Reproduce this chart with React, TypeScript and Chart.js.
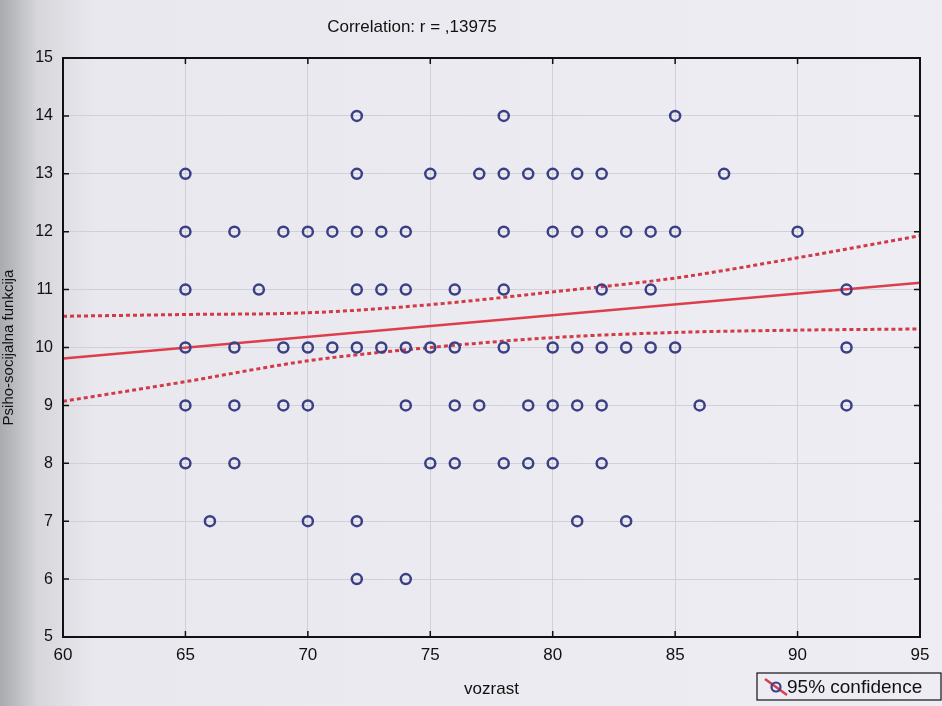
import { useEffect, useRef } from "react";
import { Chart, registerables } from "chart.js";

Chart.register(...registerables);

const FONT = '"Liberation Sans", Arial, sans-serif';
const RED = "#dc3f4b";
const BLUE = "#3a3f86";

const titleText = "Correlation: r = ,13975";
const xTitle = "vozrast";
const yTitle = "Psiho-socijalna funkcija";
const legendText = "95% confidence";

const xTicks = [60, 65, 70, 75, 80, 85, 90, 95];
const yTicks = [5, 6, 7, 8, 9, 10, 11, 12, 13, 14, 15];

// score levels and the ages observed at each level
const scores = [14, 13, 12, 11, 10, 9, 8, 7, 6];
const ages14 = [72, 78, 85];
const ages13 = [65, 72, 75, 77, 78, 79, 80, 81, 82, 87];
const ages12 = [65, 67, 69, 70, 71, 72, 73, 74, 78, 80, 81, 82, 83, 84, 85, 90];
const ages11 = [65, 68, 72, 73, 74, 76, 78, 82, 84, 92];
const ages10 = [65, 67, 69, 70, 71, 72, 73, 74, 75, 76, 78, 80, 81, 82, 83, 84, 85, 92];
const ages9 = [65, 67, 69, 70, 74, 76, 77, 79, 80, 81, 82, 86, 92];
const ages8 = [65, 67, 75, 76, 78, 79, 80, 82];
const ages7 = [66, 70, 72, 81, 83];
const ages6 = [72, 74];
const agesByScore = [ages14, ages13, ages12, ages11, ages10, ages9, ages8, ages7, ages6];

// regression line and 95% confidence band
const fitX = [60, 95];
const fitY = [9.81, 11.12];
const bandX = [60, 65, 70, 75, 80, 85, 90, 95];
const upperY = [10.54, 10.57, 10.6, 10.74, 10.96, 11.2, 11.55, 11.93];
const lowerY = [9.07, 9.41, 9.77, 10.0, 10.17, 10.26, 10.3, 10.32];

const framePlugin = {
  id: "frame",
  afterDraw(chart: any) {
    const { ctx, chartArea, scales } = chart;
    const { left, top, right, bottom } = chartArea;
    const x = scales.x;
    const y = scales.y;
    ctx.save();
    ctx.strokeStyle = "#111";
    ctx.lineWidth = 2;
    ctx.strokeRect(left, top, right - left, bottom - top);
    ctx.lineWidth = 1.5;
    ctx.beginPath();
    for (const v of xTicks) {
      const px = x.getPixelForValue(v);
      ctx.moveTo(px, bottom);
      ctx.lineTo(px, bottom - 6);
      ctx.moveTo(px, top);
      ctx.lineTo(px, top + 6);
    }
    for (const v of yTicks) {
      const py = y.getPixelForValue(v);
      ctx.moveTo(left, py);
      ctx.lineTo(left + 6, py);
      ctx.moveTo(right, py);
      ctx.lineTo(right - 6, py);
    }
    ctx.stroke();

    // title
    ctx.fillStyle = "#111";
    ctx.font = `17px ${FONT}`;
    ctx.textAlign = "center";
    ctx.textBaseline = "middle";
    ctx.fillText(titleText, 412, 27);

    // legend
    const lx = 757, ly = 673, lw = 184, lh = 27;
    ctx.lineWidth = 1.2;
    ctx.strokeStyle = "#111";
    ctx.strokeRect(lx, ly, lw, lh);
    ctx.strokeStyle = RED;
    ctx.lineWidth = 2.5;
    ctx.beginPath();
    ctx.moveTo(lx + 8, ly + 6);
    ctx.lineTo(lx + 30, ly + 22);
    ctx.stroke();
    ctx.strokeStyle = BLUE;
    ctx.lineWidth = 2.2;
    ctx.beginPath();
    ctx.arc(lx + 19, ly + 14, 4.5, 0, Math.PI * 2);
    ctx.stroke();
    ctx.fillStyle = "#111";
    ctx.font = `19px ${FONT}`;
    ctx.textAlign = "left";
    ctx.fillText(legendText, lx + 30, ly + lh / 2 + 1);
    ctx.restore();
  },
};

export default function App() {
  const ref = useRef<HTMLCanvasElement>(null);
  useEffect(() => {
    const points: { x: number; y: number }[] = [];
    scores.forEach((s, i) => agesByScore[i].forEach((a) => points.push({ x: a, y: s })));
    const chart = new Chart(ref.current as HTMLCanvasElement, {
      type: "scatter",
      data: {
        datasets: [
          {
            label: "points",
            data: points,
            pointStyle: "circle",
            pointRadius: 5,
            pointBorderWidth: 2.5,
            pointBorderColor: BLUE,
            pointBackgroundColor: "rgba(0,0,0,0)",
            showLine: false,
            order: 0,
          } as any,
          {
            label: "fit",
            data: fitX.map((x, i) => ({ x, y: fitY[i] })),
            showLine: true,
            borderColor: RED,
            borderWidth: 2.5,
            pointRadius: 0,
            order: 1,
          },
          {
            label: "upper",
            data: bandX.map((x, i) => ({ x, y: upperY[i] })),
            showLine: true,
            borderColor: "#d23a47",
            borderWidth: 3,
            borderDash: [4, 3],
            pointRadius: 0,
            cubicInterpolationMode: "monotone",
            order: 1,
          },
          {
            label: "lower",
            data: bandX.map((x, i) => ({ x, y: lowerY[i] })),
            showLine: true,
            borderColor: "#d23a47",
            borderWidth: 3,
            borderDash: [4, 3],
            pointRadius: 0,
            cubicInterpolationMode: "monotone",
            order: 1,
          },
        ],
      },
      options: {
        animation: false,
        responsive: false,
        events: [],
        layout: { padding: { top: 58, right: 22, left: 0, bottom: 0 } },
        plugins: { legend: { display: false }, tooltip: { enabled: false }, title: { display: false } },
        scales: {
          x: {
            type: "linear",
            min: 60,
            max: 95,
            afterFit: (s: any) => {
              s.height = 69;
            },
            ticks: { stepSize: 5, padding: 8, color: "#111", font: { size: 17, family: FONT } },
            grid: { color: "#cfd0d8", lineWidth: 1, drawTicks: false },
            border: { display: false },
            title: { display: true, text: xTitle, color: "#111", font: { size: 17, family: FONT }, padding: { top: 0, bottom: 6 } },
          },
          y: {
            type: "linear",
            min: 5,
            max: 15,
            afterFit: (s: any) => {
              s.width = 63;
            },
            ticks: { stepSize: 1, padding: 10, color: "#111", font: { size: 16, family: FONT } },
            grid: { color: "#cfd0d8", lineWidth: 1, drawTicks: false },
            border: { display: false },
            title: { display: true, text: yTitle, color: "#111", font: { size: 15, family: FONT }, padding: { top: 0, bottom: 0 } },
          },
        },
      },
      plugins: [framePlugin],
    });
    return () => chart.destroy();
  }, []);
  return (
    <div
      style={{
        position: "fixed",
        left: 0,
        top: 0,
        width: 942,
        height: 706,
        background: "linear-gradient(to right, #a8aaae 0%, #d6d6db 4%, #e9e8ee 10%, #eeedf3 100%)",
      }}
    >
      <canvas ref={ref} width={942} height={706} style={{ display: "block" }} />
    </div>
  );
}
